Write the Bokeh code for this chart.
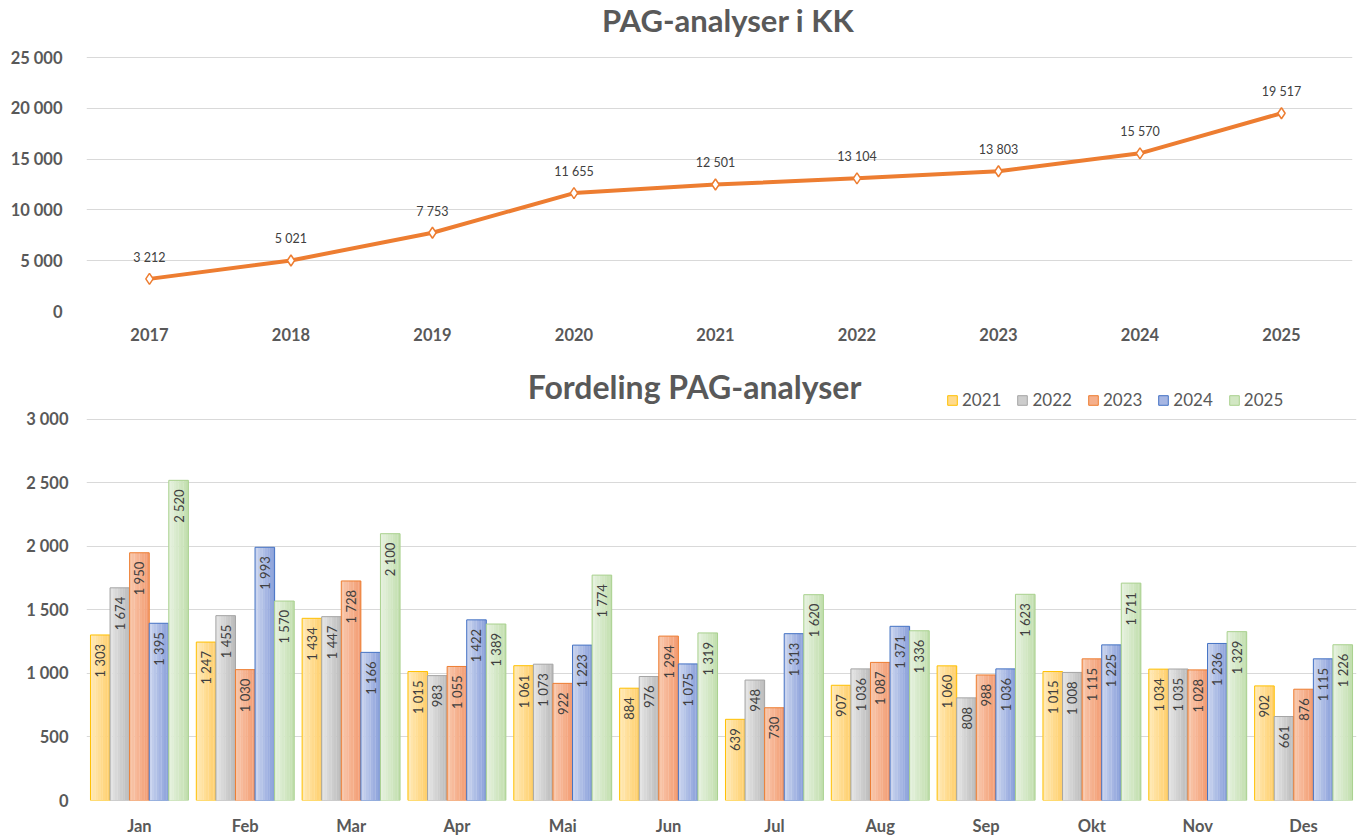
from bokeh.plotting import figure
from bokeh.models import (FixedTicker, Legend, LegendItem, Label, ColumnDataSource, Range1d)
from bokeh.transform import dodge
from bokeh.layouts import column
from bokeh.core.properties import value
from bokeh.embed import file_html
from bokeh.resources import INLINE

# ---------------- data ----------------
years = ["2017", "2018", "2019", "2020", "2021", "2022", "2023", "2024", "2025"]
totals = [3212, 5021, 7753, 11655, 12501, 13104, 13803, 15570, 19517]
top_ticks = [0, 5000, 10000, 15000, 20000, 25000]
top_tick_labels = ["0", "5 000", "10 000", "15 000", "20 000", "25 000"]

months = ["Jan", "Feb", "Mar", "Apr", "Mai", "Jun", "Jul", "Aug", "Sep", "Okt", "Nov", "Des"]
series_names = ["2021", "2022", "2023", "2024", "2025"]
v2021 = [1303, 1247, 1434, 1015, 1061, 884, 639, 907, 1060, 1015, 1034, 902]
v2022 = [1674, 1455, 1447, 983, 1073, 976, 948, 1036, 808, 1008, 1035, 661]
v2023 = [1950, 1030, 1728, 1055, 922, 1294, 730, 1087, 988, 1115, 1028, 876]
v2024 = [1395, 1993, 1166, 1422, 1223, 1075, 1313, 1371, 1036, 1225, 1236, 1115]
v2025 = [2520, 1570, 2100, 1389, 1774, 1319, 1620, 1336, 1623, 1711, 1329, 1226]
bot_ticks = [0, 500, 1000, 1500, 2000, 2500, 3000]
bot_tick_labels = ["0", "500", "1 000", "1 500", "2 000", "2 500", "3 000"]

# ---------------- styles ----------------
GRID = "#D9D9D9"
AXTXT = "#595959"
LBL = "#404040"
FONT = "Lato"
grad_left = ["#FFE8B4", "#E3E3E3", "#F8C6AA", "#C9D3EE", "#E5F1DD"]
grad_right = ["#FFD06E", "#BDBDBD", "#F39D74", "#8BA1DA", "#C3DFB0"]
borders = ["#FFC000", "#A5A5A5", "#ED7D31", "#4472C4", "#A9D18E"]


def fmt(v):
    s = f"{v:,}"
    return s.replace(",", " ")


def mix(c1, c2, t):
    a = [int(c1[i:i + 2], 16) for i in (1, 3, 5)]
    b = [int(c2[i:i + 2], 16) for i in (1, 3, 5)]
    return "#" + "".join(f"{round(a[i] + (b[i] - a[i]) * t):02X}" for i in range(3))


def style_axes(p, standoff_x, standoff_y):
    p.outline_line_color = None
    p.xgrid.grid_line_color = None
    p.ygrid.grid_line_color = GRID
    p.ygrid.grid_line_width = 1.2
    for ax in (p.xaxis, p.yaxis):
        ax.axis_line_color = None
        ax.major_tick_line_color = None
        ax.minor_tick_line_color = None
        ax.major_label_text_font = FONT
        ax.major_label_text_font_style = "bold"
        ax.major_label_text_font_size = "16.5px"
        ax.major_label_text_color = AXTXT
    p.yaxis.major_label_standoff = standoff_y
    p.xaxis.major_label_standoff = standoff_x


# ---------------- top chart ----------------
year_pos = list(range(len(years)))
p1 = figure(x_range=Range1d(-0.445, 8.502), y_range=(0, 30217), width=1356, height=350,
            output_backend="svg", toolbar_location=None,
            min_border_left=86, min_border_right=4, min_border_top=4, min_border_bottom=39)
style_axes(p1, 10, 18)
p1.xaxis.ticker = FixedTicker(ticks=year_pos)
p1.xaxis.major_label_overrides = {i: y for i, y in zip(year_pos, years)}
p1.yaxis.ticker = FixedTicker(ticks=top_ticks)
p1.yaxis.major_label_overrides = {t: l for t, l in zip(top_ticks, top_tick_labels)}

src1 = ColumnDataSource(dict(x=year_pos, y=totals, lab=[fmt(v) for v in totals]))
p1.line("x", "y", source=src1, line_color="#ED7D31", line_width=4)
p1.scatter("x", "y", source=src1, marker="diamond", size=11,
           line_color="#ED7D31", line_width=1.5, fill_color="white")
p1.text("x", "y", text="lab", source=src1, y_offset=-14, text_align="center",
        text_baseline="bottom", text_font=value(FONT), text_font_size="12.5px",
        text_color=LBL)
p1.add_layout(Label(x=4.09, y=28740, text="PAG-analyser i KK", text_align="center",
                    text_baseline="middle", text_font=FONT, text_font_size="31px",
                    text_font_style="bold", text_color=AXTXT))

# ---------------- bottom chart ----------------
p2 = figure(x_range=months, y_range=(0, 3479), width=1360, height=488,
            output_backend="svg", toolbar_location=None,
            min_border_left=86, min_border_right=2, min_border_top=8, min_border_bottom=37)
style_axes(p2, 9, 12)
p2.yaxis.ticker = FixedTicker(ticks=bot_ticks)
p2.yaxis.major_label_overrides = {t: l for t, l in zip(bot_ticks, bot_tick_labels)}

all_vals = [v2021, v2022, v2023, v2024, v2025]
bw = 0.185
NSTRIP = 8
items = []
for i, (name, vals) in enumerate(zip(series_names, all_vals)):
    src = ColumnDataSource(dict(m=months, v=vals, lab=[fmt(v) for v in vals]))
    off = (i - 2) * bw
    mid_r = None
    for k in range(NSTRIP):
        t = k / (NSTRIP - 1)
        sw = bw / NSTRIP
        so = off - bw / 2 + sw * (k + 0.5)
        r = p2.vbar(x=dodge("m", so, range=p2.x_range), top="v", width=sw * 1.08,
                    source=src, fill_color=mix(grad_left[i], grad_right[i], t),
                    line_color=None)
        if k == NSTRIP // 2:
            mid_r = r
    outline = p2.vbar(x=dodge("m", off, range=p2.x_range), top="v", width=bw,
                      source=src, fill_alpha=0, line_color=borders[i], line_width=1)
    p2.text(x=dodge("m", off, range=p2.x_range), y="v", text="lab", source=src,
            angle=1.5708, text_align="right", text_baseline="middle", y_offset=9,
            text_font=value(FONT), text_font_size="13px", text_color=LBL)
    items.append(LegendItem(label=name, renderers=[mid_r, outline]))

legend = Legend(items=items, orientation="horizontal", location=(860, 390),
                background_fill_alpha=0, border_line_color=None,
                label_text_font=FONT, label_text_font_size="17px", label_text_color=AXTXT,
                glyph_width=12, glyph_height=12, spacing=15, label_standoff=4,
                margin=0, padding=0)
p2.add_layout(legend)

p2.add_layout(Label(x=5.745, y=3259, text="Fordeling PAG-analyser", text_align="center",
                    text_baseline="middle", text_font=FONT, text_font_size="32px",
                    text_font_style="bold", text_color=AXTXT))

layout = column(p1, p2, spacing=0)
open("out.html", "w").write(file_html(layout, INLINE))
